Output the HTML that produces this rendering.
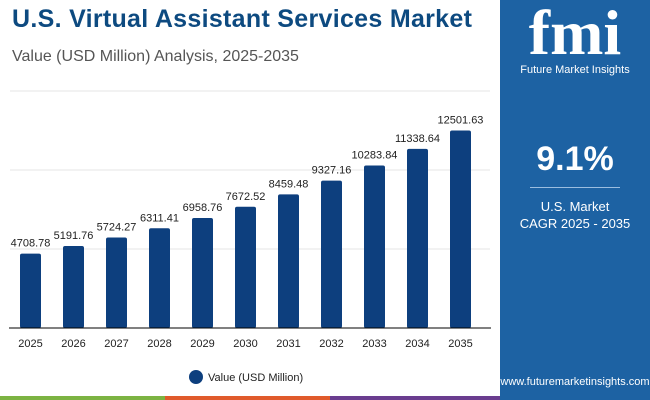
<!DOCTYPE html>
<html><head><meta charset="utf-8"><style>
body{margin:0;width:650px;height:400px;overflow:hidden;background:#fff;font-family:"Liberation Sans",sans-serif;position:relative}
#title{position:absolute;left:12px;top:5px;font-size:25px;font-weight:bold;color:#0d4a80;margin:0;letter-spacing:0.3px}
#sub{position:absolute;left:12px;top:48px;font-size:16px;color:#555}
#panel{position:absolute;left:500px;top:0;width:150px;height:400px;background:#1d62a3}
#logo{position:absolute;left:0;top:2px;width:150px;text-align:center;color:#fff}
#cagr{position:absolute;left:0;top:140px;width:150px;text-align:center;color:#fff;font-size:34px;font-weight:bold}
#hr{position:absolute;left:30px;top:187px;width:90px;height:1px;background:#9bbde0}
#mk{position:absolute;left:0;top:198px;width:150px;text-align:center;color:#fff;font-size:13px;line-height:17px}
#url{position:absolute;left:500px;top:376px;width:150px;text-align:center;font-size:11px;color:#fff}
</style></head><body>
<h1 id="title">U.S. Virtual Assistant Services Market</h1>
<div id="sub">Value (USD Million) Analysis, 2025-2035</div>
<div id="panel">
 <div id="logo"><div style="font-size:64px;font-weight:bold;font-family:'Liberation Serif',serif;line-height:62px">fmi</div><div style="font-size:11px">Future Market Insights</div></div>
 <div id="cagr">9.1%</div>
 <div id="hr"></div>
 <div id="mk">U.S. Market<br>CAGR 2025 - 2035</div>
</div>
<div id="url">www.futuremarketinsights.com</div>
<svg id="chart" width="650" height="400" style="position:absolute;left:0;top:0"></svg>
<script>
const categories=["2025","2026","2027","2028","2029","2030","2031","2032","2033","2034","2035"];
const values=[4708.78,5191.76,5724.27,6311.41,6958.76,7672.52,8459.48,9327.16,10283.84,11338.64,12501.63];
const labels=["4708.78","5191.76","5724.27","6311.41","6958.76","7672.52","8459.48","9327.16","10283.84","11338.64","12501.63"];
const gridVals=[5000,10000,15000];
const svg=document.getElementById('chart');const NS='http://www.w3.org/2000/svg';
const y=v=>328-v*0.0158;const x=i=>30.5+i*43;
function mk(t,a){const e=document.createElementNS(NS,t);for(const k in a)e.setAttribute(k,a[k]);svg.appendChild(e);return e;}
gridVals.forEach(g=>{const l=mk('line',{x1:10,x2:490,y1:y(g),y2:y(g),stroke:'#e6e6e6'});

});
values.forEach((v,i)=>{const r=mk('rect',{x:x(i)-10.5,y:y(v),width:21,height:328-y(v),fill:'#0d3f7e',rx:2});


const t=mk('text',{x:x(i),y:y(v)-7,'text-anchor':'middle','font-size':11,fill:'#222'});t.textContent=labels[i];


const c=mk('text',{x:x(i),y:347,'text-anchor':'middle','font-size':11,fill:'#222'});c.textContent=categories[i];

});
const ax=mk('line',{x1:9,x2:491,y1:328,y2:328,stroke:'#000','stroke-width':1});


const lc=mk('circle',{cx:196,cy:377,r:7,fill:'#0d3f7e'});


const lt=mk('text',{x:208,y:381,'font-size':11,fill:'#222'});lt.textContent='Value (USD Million)';


[['#7cb342',0,165],['#e05a2b',165,330],['#6a3d8f',330,500]].forEach(s=>{const r=mk('rect',{x:s[1],y:396,width:s[2]-s[1],height:4,fill:s[0]});

});
</script>
</body></html>
